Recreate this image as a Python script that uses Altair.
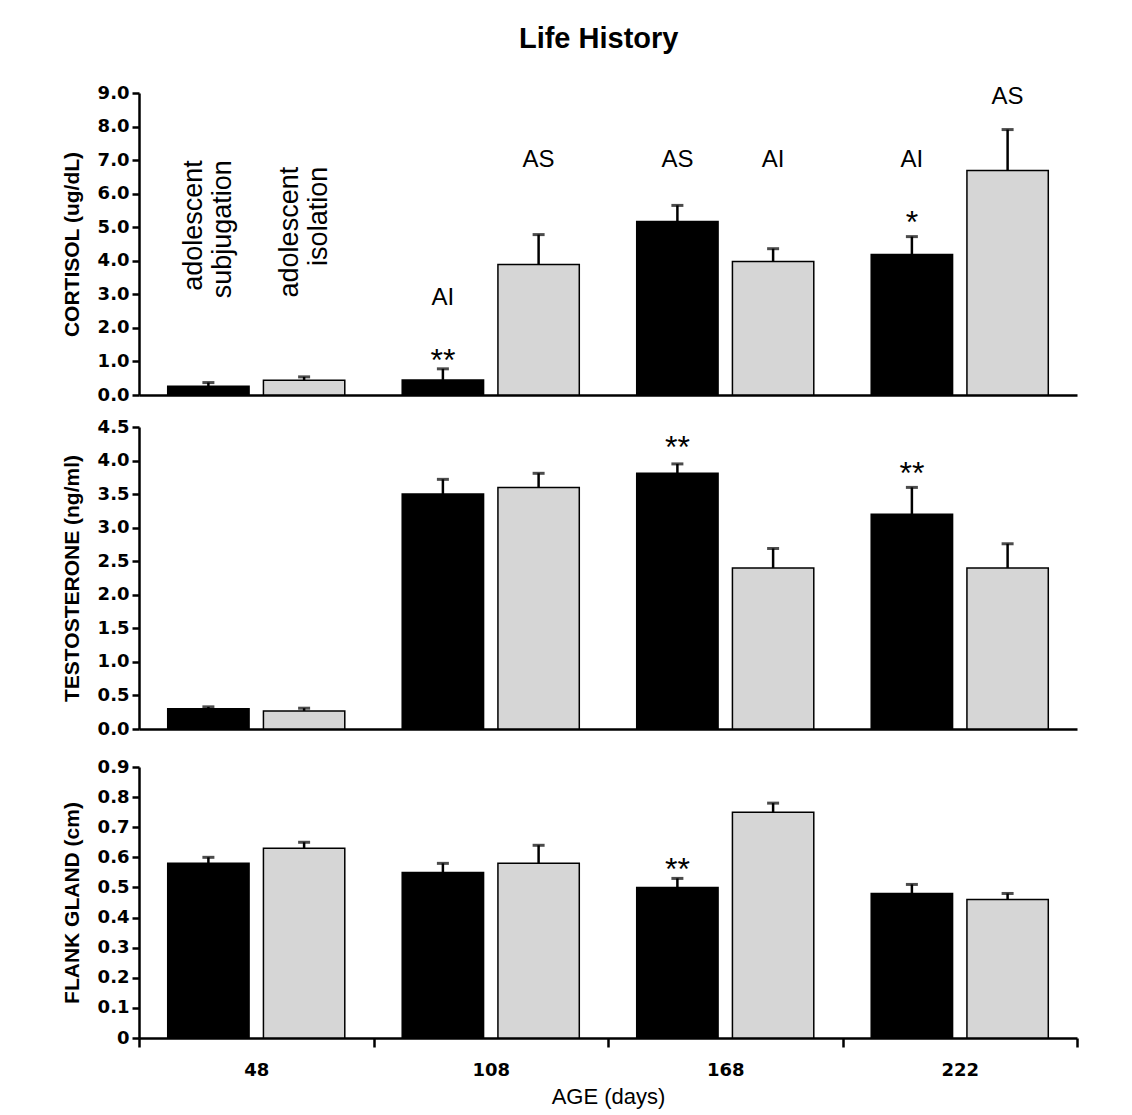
import altair as alt
import pandas as pd

# ---------------- data ----------------
ages = ["48", "108", "168", "222"]
groups = ["adolescent subjugation", "adolescent isolation"]

cortisol_as = [0.26, 0.45, 5.17, 4.19]
cortisol_as_err = [0.11, 0.33, 0.48, 0.53]
cortisol_ai = [0.44, 3.89, 3.98, 6.69]
cortisol_ai_err = [0.10, 0.89, 0.38, 1.22]

testo_as = [0.30, 3.50, 3.81, 3.20]
testo_as_err = [0.03, 0.22, 0.14, 0.40]
testo_ai = [0.27, 3.60, 2.40, 2.40]
testo_ai_err = [0.04, 0.21, 0.29, 0.36]

flank_as = [0.58, 0.55, 0.50, 0.48]
flank_as_err = [0.02, 0.03, 0.03, 0.03]
flank_ai = [0.63, 0.58, 0.75, 0.46]
flank_ai_err = [0.02, 0.06, 0.03, 0.02]

# letter annotations (top panel)
cort_lab_age = ["108", "108", "168", "168", "222", "222"]
cort_lab_grp = [0, 1, 0, 1, 0, 1]
cort_lab_text = ["AI", "AS", "AS", "AI", "AI", "AS"]
cort_lab_y = [2.9, 7.0, 7.0, 7.0, 7.0, 8.88]

# star annotations
cort_star_age = ["108", "222"]
cort_star_text = ["**", "*"]
cort_star_y = [1.25, 5.35]
testo_star_age = ["168", "222"]
testo_star_text = ["**", "**"]
testo_star_y = [4.30, 3.92]
flank_star_age = ["168"]
flank_star_text = ["**"]
flank_star_y = [0.585]

# rotated group labels
grp_label_lines = [["adolescent", "subjugation"], ["adolescent", "isolation"]]
grp_label_y = [7.0, 6.8]

BAR_COLORS = ["black", "#d6d6d6"]


def long_df(a_vals, a_err, i_vals, i_err):
    rows = []
    for k, age in enumerate(ages):
        rows.append(dict(age=age, group=groups[0], value=a_vals[k], top=a_vals[k] + a_err[k]))
        rows.append(dict(age=age, group=groups[1], value=i_vals[k], top=i_vals[k] + i_err[k]))
    return pd.DataFrame(rows)


def star_df(age_list, text_list, y_list):
    return pd.DataFrame(dict(age=age_list, group=[groups[0]] * len(age_list),
                             text=text_list, y=y_list))


def x_axis(bottom):
    if bottom:
        return alt.Axis(title="AGE (days)", labelAngle=0, tickBand="extent", tickSize=9,
                        tickWidth=2.5, tickColor="black", domainColor="black", domainWidth=2.5,
                        labelFont="DejaVu Sans", labelFontWeight="bold", labelFontSize=18,
                        labelColor="black", labelPadding=14,
                        titleFont="Liberation Sans", titleFontWeight="normal", titleFontSize=22,
                        titleColor="black", titlePadding=7, grid=False)
    return alt.Axis(title=None, labels=False, ticks=False, domainColor="black",
                    domainWidth=2.5, grid=False)


xoff = alt.XOffset("group:N", sort=groups,
                   scale=alt.Scale(domain=groups, paddingInner=0.15, paddingOuter=0.3))


def panel(df, title, dom, vals, label_expr, height, bottom, stars, extra_specs=()):
    yscale = alt.Scale(domain=dom, nice=False, zero=True)
    yaxis = alt.Axis(title=title, values=vals, labelExpr=label_expr, grid=False,
                     labelOverlap=False,
                     titleFont="Liberation Sans", titleFontSize=21, titleFontWeight="bold",
                     titleColor="black", titlePadding=15,
                     labelFont="DejaVu Sans", labelFontWeight="bold", labelFontSize=18,
                     labelColor="black", labelPadding=3,
                     tickSize=7, tickWidth=2.5, tickColor="black",
                     domainColor="black", domainWidth=2.5)
    xe = alt.X("age:N", sort=ages, scale=alt.Scale(paddingInner=0, paddingOuter=0),
               axis=x_axis(bottom))

    def ye(field):
        return alt.Y(field, scale=yscale, axis=yaxis)

    base = alt.Chart(df)
    bars = base.mark_bar(stroke="black", strokeWidth=1.5).encode(
        x=xe, xOffset=xoff, y=ye("value:Q"),
        fill=alt.Fill("group:N", scale=alt.Scale(domain=groups, range=BAR_COLORS), legend=None),
    )
    err = base.mark_rule(color="black", strokeWidth=2.5).encode(
        x=xe, xOffset=xoff, y=ye("value:Q"), y2="top:Q",
    )
    cap = base.mark_tick(color="black", size=12, thickness=3, orient="horizontal").encode(
        x=xe, xOffset=xoff, y=ye("top:Q"),
    )
    st = alt.Chart(stars).mark_text(font="Liberation Sans", fontSize=32, color="black",
                                    baseline="middle", dy=8).encode(
        x=xe, xOffset=xoff, y=ye("y:Q"), text="text:N",
    )
    layers = [bars, err, cap, st]
    for data, mark_kw, text_field in extra_specs:
        layers.append(alt.Chart(data).mark_text(**mark_kw).encode(
            x=xe, xOffset=xoff, y=ye("y:Q"), text=text_field))
    return alt.layer(*layers).properties(width=938, height=height)


# top panel extras
lab_df = pd.DataFrame(dict(age=cort_lab_age, group=[groups[g] for g in cort_lab_grp],
                           text=cort_lab_text, y=cort_lab_y))
lab_kw = dict(font="Liberation Sans", fontSize=24, color="black", baseline="middle")
grp_df = pd.DataFrame(dict(age=[ages[0], ages[0]], group=groups, lines=grp_label_lines,
                           y=grp_label_y))
grp_kw = dict(font="Liberation Sans", fontSize=27, color="black", angle=270, align="right",
              baseline="middle", lineHeight=29, dy=-14)

top = panel(long_df(cortisol_as, cortisol_as_err, cortisol_ai, cortisol_ai_err),
            "CORTISOL (ug/dL)", [0, 9], [0, 1, 2, 3, 4, 5, 6, 7, 8, 9],
            "format(datum.value, '.1f')", 302, False,
            star_df(cort_star_age, cort_star_text, cort_star_y),
            [(lab_df, lab_kw, "text:N"), (grp_df, grp_kw, "lines")])
mid = panel(long_df(testo_as, testo_as_err, testo_ai, testo_ai_err),
            "TESTOSTERONE (ng/ml)", [0, 4.5], [0, 0.5, 1, 1.5, 2, 2.5, 3, 3.5, 4, 4.5],
            "format(datum.value, '.1f')", 302, False,
            star_df(testo_star_age, testo_star_text, testo_star_y))
bot = panel(long_df(flank_as, flank_as_err, flank_ai, flank_ai_err),
            "FLANK GLAND (cm)", [0, 0.9], [0, 0.1, 0.2, 0.3, 0.4, 0.5, 0.6, 0.7, 0.8, 0.9],
            "datum.value == 0 ? '0' : format(datum.value, '.1f')", 271, True,
            star_df(flank_star_age, flank_star_text, flank_star_y))

chart = alt.vconcat(
    alt.vconcat(top, mid, spacing=14),
    bot, spacing=20,
).properties(
    title=alt.TitleParams("Life History", font="Liberation Sans", fontSize=29,
                          fontWeight="bold", color="black", anchor="middle", offset=30, dx=29),
    padding={"left": 53, "top": 17, "right": 10, "bottom": 2},
).configure(background="white").configure_view(stroke=None, strokeWidth=0)

chart.save("out.html", embed_options={"renderer": "svg", "actions": False})
